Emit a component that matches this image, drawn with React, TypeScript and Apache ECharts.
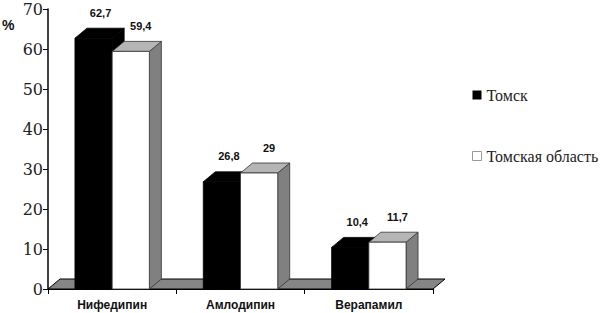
import React, { useEffect, useRef } from "react";
import * as echarts from "echarts";

const categories = ["Нифедипин", "Амлодипин", "Верапамил"];
const tomsk = [62.7, 26.8, 10.4];
const region = [59.4, 29, 11.7];
const seriesNames = ["Томск", "Томская область"];
const yTicks = { min: 0, max: 70, interval: 10 };

const DX = 12;
const DY = -10;
const SANS = "Liberation Sans";

function fmt(v: number) {
  return String(v).replace(".", ",");
}

function makeBarRender(idx: number, colors: { front: string; top: string; side: string; stroke: string }, labelShift: number) {
  return (params: any, api: any) => {
    const ci = api.value(0);
    const v = api.value(1);
    const base = api.coord([ci, 0]);
    const top = api.coord([ci, v]);
    const band = api.size([1, 0])[0];
    const w = band * 0.29;
    const x0 = base[0] + (idx === 0 ? -w : 0);
    const x1 = x0 + w;
    const y0 = base[1];
    const yt = top[1];
    return {
      type: "group",
      children: [
        {
          type: "polygon",
          shape: { points: [[x1, yt], [x1 + DX, yt + DY], [x1 + DX, y0 + DY], [x1, y0]] },
          style: { fill: colors.side, stroke: colors.stroke, lineWidth: 0.8 },
        },
        {
          type: "polygon",
          shape: { points: [[x0, yt], [x0 + DX, yt + DY], [x1 + DX, yt + DY], [x1, yt]] },
          style: { fill: colors.top, stroke: colors.stroke, lineWidth: 0.8 },
        },
        {
          type: "rect",
          shape: { x: x0, y: yt, width: w, height: y0 - yt },
          style: { fill: colors.front, stroke: colors.stroke, lineWidth: 0.8 },
        },
        {
          type: "text",
          x: (x0 + x1) / 2 + labelShift,
          y: yt + DY - 10,
          style: {
            text: fmt(v),
            fill: "#111",
            fontFamily: SANS,
            fontWeight: "bold",
            fontSize: 11,
            textAlign: "center",
            textVerticalAlign: "bottom",
          },
        },
      ],
    };
  };
}

export default function App() {
  const ref = useRef<HTMLDivElement>(null);
  useEffect(() => {
    if (!ref.current) return;
    const chart = echarts.init(ref.current, undefined, { renderer: "svg" });
    chart.setOption({
      animation: false,
      backgroundColor: "#fff",
      grid: { left: 48, right: 171, top: 9, bottom: 24, containLabel: false },
      xAxis: {
        type: "category",
        data: categories,
        boundaryGap: true,
        axisLine: { lineStyle: { color: "#000", width: 1.2 } },
        axisTick: { show: true, length: 5, lineStyle: { color: "#000" } },
        axisLabel: {
          color: "#111",
          fontFamily: SANS,
          fontWeight: "bold",
          fontSize: 12,
          margin: 10,
        },
      },
      yAxis: {
        type: "value",
        min: yTicks.min,
        max: yTicks.max,
        interval: yTicks.interval,
        axisLine: { show: true, lineStyle: { color: "#000", width: 1.5 } },
        axisTick: { show: true, length: 5, lineStyle: { color: "#000" } },
        splitLine: { show: false },
        axisLabel: {
          color: "#222",
          fontFamily: "DejaVu Serif",
          fontSize: 16,
          margin: 5,
        },
      },
      legend: {
        orient: "vertical",
        left: 467,
        top: 82,
        itemWidth: 9,
        itemHeight: 9,
        itemGap: 45,
        icon: "rect",
        textStyle: {
          color: "#222",
          fontFamily: "serif",
          fontSize: 16,
        },
        data: [
          { name: seriesNames[0], itemStyle: { color: "#000" } },
          { name: seriesNames[1], itemStyle: { color: "#fff", borderColor: "#999", borderWidth: 1 } },
        ],
      },
      graphic: [
        {
          type: "text",
          left: 2,
          top: 18,
          style: {
            text: "%",
            fill: "#111",
            fontFamily: SANS,
            fontWeight: "bold",
            fontSize: 14,
          },
        },
      ],
      series: [
        {
          type: "custom",
          name: "floor",
          silent: true,
          z: 1,
          data: [[0, 0]],
          renderItem: (params: any, api: any) => {
            const cs = params.coordSys;
            const yb = cs.y + cs.height;
            return {
              type: "polygon",
              shape: {
                points: [
                  [cs.x, yb],
                  [cs.x + DX, yb + DY],
                  [cs.x + cs.width + DX, yb + DY],
                  [cs.x + cs.width, yb],
                ],
              },
              style: { fill: "#858585", stroke: "#000", lineWidth: 1 },
            };
          },
        },
        {
          type: "custom",
          name: seriesNames[0],
          z: 2,
          itemStyle: { color: "#000" },
          data: categories.map((c, i) => [i, tomsk[i]]),
          encode: { x: 0, y: 1 },
          renderItem: makeBarRender(0, { front: "#000", top: "#000", side: "#000", stroke: "#000" }, 7),
        },
        {
          type: "custom",
          name: seriesNames[1],
          z: 3,
          itemStyle: { color: "#fff" },
          data: categories.map((c, i) => [i, region[i]]),
          encode: { x: 0, y: 1 },
          renderItem: makeBarRender(1, { front: "#fff", top: "#b5b5b5", side: "#808080", stroke: "#333" }, 10),
        },
      ],
    });
    return () => chart.dispose();
  }, []);
  return (
    <div
      ref={ref}
      style={{ position: "fixed", left: 0, top: 0, width: 604, height: 313, background: "#fff" }}
    />
  );
}
